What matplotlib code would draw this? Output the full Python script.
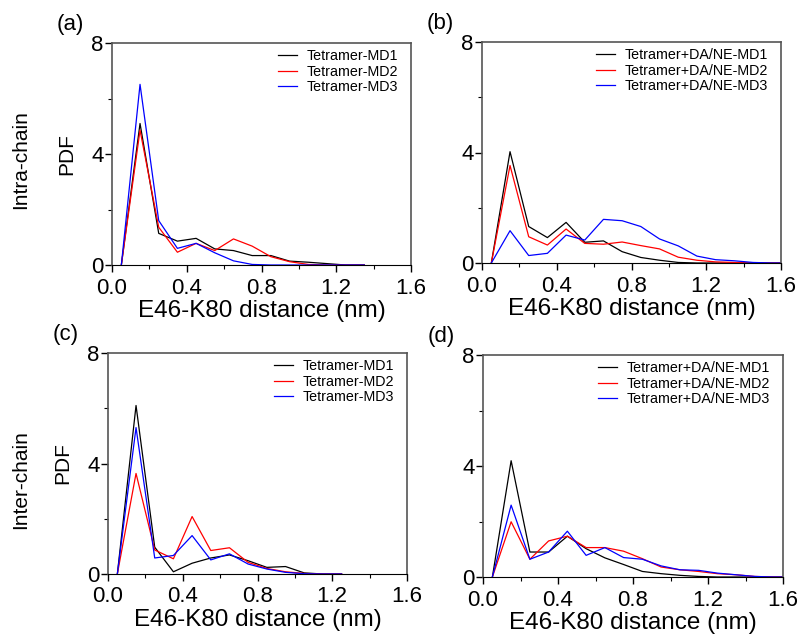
import numpy as np
import matplotlib
matplotlib.use("Agg")
import matplotlib.pyplot as plt
from matplotlib.ticker import MultipleLocator

plt.rcParams['font.family'] = ['Liberation Sans', 'DejaVu Sans']

# bin centres (nm)
x_a = [0.05, 0.15, 0.25, 0.35, 0.45, 0.55, 0.65, 0.75, 0.85, 0.95, 1.05, 1.15, 1.25, 1.35]
a_md1 = [0, 5.10, 1.14, 0.86, 0.96, 0.58, 0.52, 0.34, 0.34, 0.14, 0.10, 0.05, 0, 0]
a_md2 = [0, 4.86, 1.36, 0.46, 0.78, 0.52, 0.94, 0.68, 0.30, 0.12, 0.02, 0, 0, 0]
a_md3 = [0, 6.51, 1.60, 0.60, 0.78, 0.44, 0.15, 0.02, 0, 0, 0, 0, 0, 0]

x_b = [0.05, 0.15, 0.25, 0.35, 0.45, 0.55, 0.65, 0.75, 0.85, 0.95, 1.05, 1.15, 1.25, 1.35, 1.45, 1.55, 1.6]
b_md1 = [0, 4.03, 1.32, 0.92, 1.47, 0.75, 0.80, 0.41, 0.20, 0.10, 0.02, 0, 0, 0, 0, 0, 0]
b_md2 = [0, 3.53, 0.95, 0.65, 1.23, 0.71, 0.68, 0.76, 0.63, 0.51, 0.21, 0.10, 0.04, 0.02, 0, 0, 0]
b_md3 = [0, 1.17, 0.27, 0.35, 1.01, 0.83, 1.58, 1.53, 1.32, 0.87, 0.62, 0.25, 0.12, 0.08, 0.02, 0, 0]

x_c = [0.05, 0.15, 0.25, 0.35, 0.45, 0.55, 0.65, 0.75, 0.85, 0.95, 1.05, 1.15, 1.25]
c_md1 = [0, 6.10, 0.97, 0.08, 0.39, 0.58, 0.69, 0.48, 0.24, 0.27, 0.04, 0, 0]
c_md2 = [0, 3.64, 0.87, 0.55, 2.08, 0.85, 0.95, 0.42, 0.20, 0.08, 0.02, 0, 0]
c_md3 = [0, 5.30, 0.58, 0.67, 1.39, 0.51, 0.73, 0.36, 0.18, 0.06, 0.01, 0, 0]

x_d = [0.05, 0.15, 0.25, 0.35, 0.45, 0.55, 0.65, 0.75, 0.85, 0.95, 1.05, 1.15, 1.25, 1.35, 1.45, 1.55, 1.6]
d_md1 = [0, 4.19, 0.90, 0.90, 1.47, 1.02, 0.69, 0.45, 0.20, 0.12, 0.06, 0.02, 0, 0, 0, 0, 0]
d_md2 = [0, 1.99, 0.64, 1.30, 1.47, 1.06, 1.06, 0.93, 0.66, 0.36, 0.26, 0.20, 0.12, 0.08, 0.02, 0, 0]
d_md3 = [0, 2.59, 0.64, 0.90, 1.65, 0.78, 1.06, 0.70, 0.64, 0.40, 0.26, 0.24, 0.14, 0.08, 0.02, 0, 0]

labels_plain = ['Tetramer-MD1', 'Tetramer-MD2', 'Tetramer-MD3']
labels_ligand = ['Tetramer+DA/NE-MD1', 'Tetramer+DA/NE-MD2', 'Tetramer+DA/NE-MD3']
colors = ['black', 'red', 'blue']

fig = plt.figure(figsize=(8.01, 6.36), dpi=100)

W, H = 801, 636
def add_ax(left, top, right, bottom):
    return fig.add_axes([left / W, 1 - bottom / H, (right - left) / W, (bottom - top) / H])

ax_a = add_ax(112, 43, 411, 265)
ax_b = add_ax(482, 42, 781, 263)
ax_c = add_ax(108, 353, 407, 574)
ax_d = add_ax(483, 355, 783, 577)

panels = [
    (ax_a, x_a, [a_md1, a_md2, a_md3], labels_plain, '(a)'),
    (ax_b, x_b, [b_md1, b_md2, b_md3], labels_ligand, '(b)'),
    (ax_c, x_c, [c_md1, c_md2, c_md3], labels_plain, '(c)'),
    (ax_d, x_d, [d_md1, d_md2, d_md3], labels_ligand, '(d)'),
]

for ax, xs, series, labs, tag in panels:
    for ys, col, lab in zip(series, colors, labs):
        ax.plot(xs, ys, color=col, lw=0.9, label=lab)
    ax.set_xlim(0, 1.6)
    ax.set_ylim(0, 8)
    ax.xaxis.set_major_locator(MultipleLocator(0.4))
    ax.xaxis.set_minor_locator(MultipleLocator(0.2))
    ax.yaxis.set_major_locator(MultipleLocator(4))
    ax.yaxis.set_minor_locator(MultipleLocator(2))
    ax.xaxis.set_major_formatter(matplotlib.ticker.FormatStrFormatter('%.1f'))
    ax.tick_params(which='both', direction='out', labelsize=16, top=False, right=False)
    ax.tick_params(which='major', length=5, width=1)
    ax.tick_params(which='minor', length=3, width=0.8)
    ax.tick_params(axis='x', which='major', pad=4)
    ax.tick_params(axis='y', which='major', pad=1)
    for s in ['top', 'right', 'left']:
        ax.spines[s].set_color('#555555')
        ax.spines[s].set_linewidth(1.2)
    ax.spines['bottom'].set_color('black')
    ax.set_xlabel('E46-K80 distance (nm)', fontsize=17.5, labelpad=1)
    ax.legend(loc='upper right', bbox_to_anchor=(1.0, 1.03), frameon=False, fontsize=10.3,
              handlelength=1.3, handletextpad=0.7, labelspacing=0.1)
    ax.text(-0.14, 1.085, tag, transform=ax.transAxes, fontsize=16, ha='center', va='center')

ax_a.set_ylabel('PDF', fontsize=15, labelpad=11)
ax_c.set_ylabel('PDF', fontsize=15, labelpad=11)
fig.text(21 / W, 1 - 160 / H, 'Intra-chain', rotation=90, fontsize=15, ha='center', va='center')
fig.text(21 / W, 1 - 480 / H, 'Inter-chain', rotation=90, fontsize=15, ha='center', va='center')

fig.savefig('out.png', dpi=100)
